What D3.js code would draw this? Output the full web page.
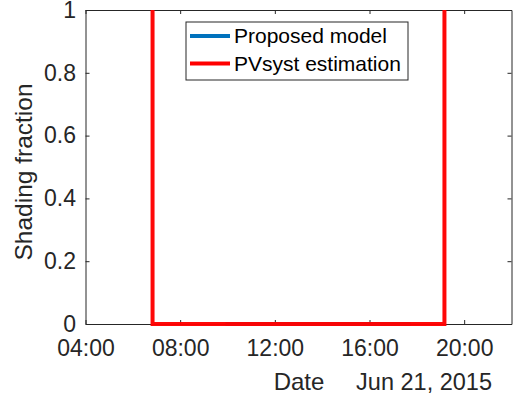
<!DOCTYPE html>
<html>
<head>
<meta charset="utf-8">
<script src="https://cdn.jsdelivr.net/npm/d3@7"></script>
<style>
  body { margin: 0; background: #fff; }
  svg { display: block; font-family: "Liberation Sans", Arial, sans-serif; }
</style>
</head>
<body>
<div id="chart"></div>
<script>
// data: times on Jun 21, 2015 (hours), shading fraction
var proposedTimes = ["09:55", "17:44"];
var proposedValues = [0, 0];
var pvsystTimes = ["06:50", "06:50", "19:10", "19:10"];
var pvsystValues = [1, 0, 0, 1];
var xTicks = ["04:00", "08:00", "12:00", "16:00", "20:00"];
var yTicks = [0, 0.2, 0.4, 0.6, 0.8, 1];
var seriesNames = ["Proposed model", "PVsyst estimation"];
var seriesColors = ["#0072BD", "#FF0000"];

var W = 513, H = 397;
var margin = { top: 10, right: 1.5, bottom: 73, left: 85.5 },
    width = W - margin.left - margin.right,
    height = H - margin.top - margin.bottom;

var toDate = function (s) {
    var p = s.split(":");
    return new Date(Date.UTC(2015, 5, 21, +p[0], +p[1]));
};

var svg = d3.select("#chart")
    .append("svg")
    .attr("width", W)
    .attr("height", H)
    .append("g")
    .attr("transform", "translate(" + margin.left + "," + margin.top + ")");

var x = d3.scaleUtc()
    .domain([toDate("04:00"), toDate("22:00")])
    .range([0, width]);
var y = d3.scaleLinear()
    .domain([0, 1])
    .range([height, 0]);

var axisColor = "#262626";
var fmt = d3.utcFormat("%H:%M");

// bottom axis
var xAxis = svg.append("g")
    .attr("transform", "translate(0," + height + ")")
    .call(d3.axisBottom(x).tickValues(xTicks.map(toDate)).tickFormat(fmt)
        .tickSizeInner(-4).tickSizeOuter(0).tickPadding(16));
// top axis (ticks only)
var xTop = svg.append("g")
    .call(d3.axisTop(x).tickValues(xTicks.map(toDate)).tickFormat("")
        .tickSizeInner(-4).tickSizeOuter(0));
// left axis
var yAxis = svg.append("g")
    .call(d3.axisLeft(y).tickValues(yTicks).tickFormat(d3.format("~g"))
        .tickSizeInner(-4).tickSizeOuter(0).tickPadding(9.5));
// right axis (ticks only)
var yRight = svg.append("g")
    .attr("transform", "translate(" + width + ",0)")
    .call(d3.axisRight(y).tickValues(yTicks).tickFormat("")
        .tickSizeInner(-4).tickSizeOuter(0));

[xAxis, xTop, yAxis, yRight].forEach(function (a) {
    a.attr("font-family", null).attr("font-size", null);
    a.selectAll("path").attr("stroke", axisColor).attr("stroke-width", 1);
    a.selectAll("line").attr("stroke", axisColor).attr("stroke-width", 1);
    a.selectAll("text").attr("fill", axisColor).style("font-size", "23px");
});

// series
var line = d3.line()
    .x(function (d) { return x(d[0]); })
    .y(function (d) { return y(d[1]); });

var proposed = proposedTimes.map(function (t, i) { return [toDate(t), proposedValues[i]]; });
var pvsyst = pvsystTimes.map(function (t, i) { return [toDate(t), pvsystValues[i]]; });

svg.append("path")
    .datum(proposed)
    .attr("fill", "none")
    .attr("stroke", seriesColors[0])
    .attr("stroke-width", 4)
    .attr("d", line);

svg.append("path")
    .datum(pvsyst)
    .attr("fill", "none")
    .attr("stroke", seriesColors[1])
    .attr("stroke-width", 4)
    .attr("opacity", 0.97)
    .attr("d", line);

// axis labels
svg.append("text")
    .attr("x", 299 - margin.left)
    .attr("y", 390 - margin.top)
    .attr("text-anchor", "middle")
    .attr("fill", axisColor)
    .style("font-size", "24px")
    .text("Date");

svg.append("text")
    .attr("x", 492 - margin.left)
    .attr("y", 390 - margin.top)
    .attr("text-anchor", "end")
    .attr("fill", axisColor)
    .style("font-size", "23.5px")
    .text("Jun 21, 2015");

svg.append("text")
    .attr("transform", "translate(" + (32 - margin.left) + "," + (172 - margin.top) + ") rotate(-90)")
    .attr("text-anchor", "middle")
    .attr("fill", axisColor)
    .style("font-size", "24.5px")
    .text("Shading fraction");

// legend
var lg = svg.append("g")
    .attr("transform", "translate(" + (186 - margin.left) + "," + (22 - margin.top) + ")");
lg.append("rect")
    .attr("width", 222)
    .attr("height", 58)
    .attr("fill", "#fff")
    .attr("stroke", axisColor)
    .attr("stroke-width", 1);

seriesNames.forEach(function (name, i) {
    var yy = 14 + i * 27.5;
    lg.append("line")
        .attr("x1", 4).attr("x2", 44)
        .attr("y1", yy).attr("y2", yy)
        .attr("stroke", seriesColors[i])
        .attr("stroke-width", 4);
    lg.append("text")
        .attr("x", 48)
        .attr("y", yy)
        .attr("dy", "0.35em")
        .attr("fill", "#000")
        .style("font-size", "21px")
        .text(name);
});
</script>
</body>
</html>
